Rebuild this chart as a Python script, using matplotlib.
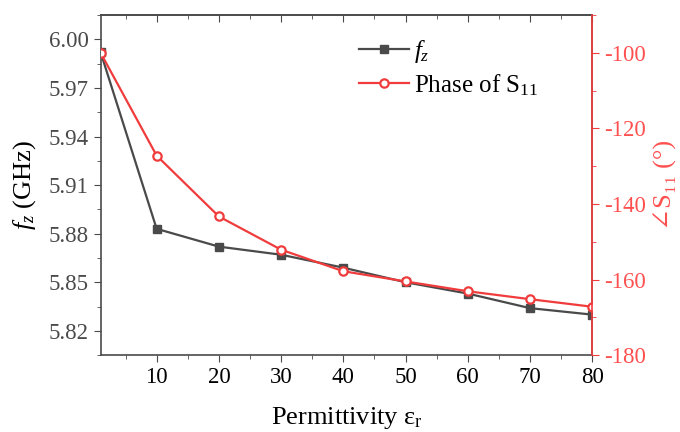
import numpy as np
import matplotlib
matplotlib.use('Agg')
import matplotlib.pyplot as plt
from matplotlib.ticker import MultipleLocator, FormatStrFormatter

plt.rcParams['font.family'] = ['Liberation Serif', 'DejaVu Serif']
plt.rcParams['mathtext.fontset'] = 'custom'
plt.rcParams['mathtext.rm'] = 'Liberation Serif'
plt.rcParams['mathtext.it'] = 'Liberation Serif:italic'
plt.rcParams['axes.unicode_minus'] = False

eps_r = [1, 10, 20, 30, 40, 50, 60, 70, 80]
fz = [5.992, 5.883, 5.872, 5.867, 5.859, 5.850, 5.843, 5.834, 5.830]
phase_s11 = [-100.0, -127.2, -143.3, -152.1, -157.8, -160.5, -163.1, -165.2, -167.2]

dark = '#4a4a4a'
red = '#f03c3c'
red_txt = '#ff5050'

fig, ax = plt.subplots(figsize=(6.8, 4.32), dpi=100)
fig.subplots_adjust(left=0.148, right=0.871, top=0.965, bottom=0.178)

l1, = ax.plot(eps_r, fz, color=dark, marker='s', markersize=6, lw=1.6, label='$f_z$')
ax.set_xlim(1, 80)
ax.set_ylim(5.805, 6.015)
ax.yaxis.set_major_locator(MultipleLocator(0.03))
ax.yaxis.set_minor_locator(MultipleLocator(0.015))
ax.xaxis.set_minor_locator(MultipleLocator(5))
ax.set_xticks([10, 20, 30, 40, 50, 60, 70, 80])
ax.yaxis.set_major_formatter(FormatStrFormatter('%.2f'))
ax.tick_params(axis='y', which='both', direction='out', colors=dark, labelsize=16.5)
ax.tick_params(axis='y', which='major', length=5)
ax.tick_params(axis='y', which='minor', length=3)
ax.tick_params(axis='x', which='both', direction='out', labelsize=16.5,
               colors=dark, labelcolor='black')
ax.tick_params(axis='x', which='major', length=5)
ax.tick_params(axis='x', which='minor', length=3)
for s in ax.spines.values():
    s.set_color(dark)
    s.set_linewidth(1.2)
ax.set_ylabel('$f_z$ (GHz)', fontsize=19, labelpad=8)
ax.set_xlabel('Permittivity ε$_\\mathrm{r}$', fontsize=19, labelpad=12)

# top axis: inward ticks only
top = ax.secondary_xaxis('top')
top.set_xticks([10, 20, 30, 40, 50, 60, 70, 80])
top.xaxis.set_minor_locator(MultipleLocator(5))
top.tick_params(axis='x', which='both', direction='in', colors=dark, labeltop=False)
top.tick_params(axis='x', which='major', length=5)
top.tick_params(axis='x', which='minor', length=3)
top.spines['top'].set_color(dark)
top.spines['top'].set_linewidth(1.2)

ax2 = ax.twinx()
l2, = ax2.plot(eps_r, phase_s11, color=red, marker='o', markersize=6, mfc='white',
               mec=red, mew=1.6, lw=1.6, label='Phase of S$_{11}$')
ax2.set_ylim(-180, -90)
ax2.yaxis.set_major_locator(MultipleLocator(20))
ax2.yaxis.set_minor_locator(MultipleLocator(10))
ax2.tick_params(axis='y', which='both', direction='out', colors=red,
                labelcolor=red_txt, labelsize=16.5)
ax2.tick_params(axis='y', which='major', length=5)
ax2.tick_params(axis='y', which='minor', length=3)
ax2.spines['right'].set_color(red)
ax2.spines['right'].set_linewidth(1.2)
ax2.set_ylabel('∠S₁₁ (°)', color=red_txt, fontsize=19, labelpad=6)
for k in ['top', 'left', 'bottom']:
    ax2.spines[k].set_visible(False)

ax.legend(handles=[l1, l2], loc='upper left', bbox_to_anchor=(0.48, 1.0), frameon=False,
          fontsize=18, handlelength=2.0, handletextpad=0.2, labelspacing=0.3)

plt.savefig('out.png', dpi=100)
